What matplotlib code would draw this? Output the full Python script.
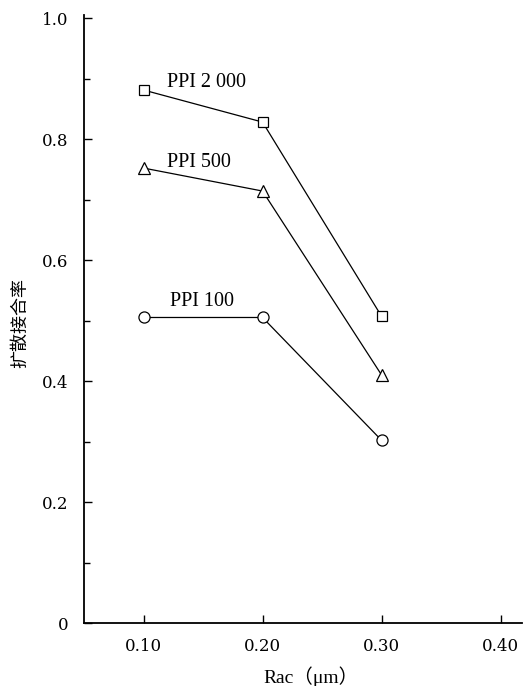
import matplotlib
matplotlib.use('Agg')
import matplotlib.pyplot as plt
from matplotlib.ticker import MultipleLocator

# 数据
rac = [0.10, 0.20, 0.30]
ppi_2000 = [0.881, 0.828, 0.507]
ppi_500 = [0.752, 0.714, 0.410]
ppi_100 = [0.505, 0.505, 0.302]
series_labels = ['PPI 2 000', 'PPI 500', 'PPI 100']
x_ticks = [0.10, 0.20, 0.30, 0.40]
y_ticks = [0, 0.2, 0.4, 0.6, 0.8, 1.0]

fig = plt.figure(figsize=(5.25, 6.86), dpi=100)
ax = fig.add_axes([84/525, 63/686, 438/525, 608/686])

mk = dict(color='black', lw=0.9, markerfacecolor='white',
          markeredgecolor='black', markeredgewidth=0.9)
ax.plot(rac, ppi_2000, marker='s', markersize=7, **mk)
ax.plot(rac, ppi_500, marker='^', markersize=8, **mk)
ax.plot(rac, ppi_100, marker='o', markersize=8, **mk)

# 曲线标注
lab_font = dict(family='Liberation Serif', fontsize=14.5, va='baseline', ha='left')
ax.text(0.12, 0.886, series_labels[0], **lab_font)
ax.text(0.12, 0.754, series_labels[1], **lab_font)
ax.text(0.122, 0.524, series_labels[2], **lab_font)

ax.set_xlim(0.05, 0.418)
ax.set_ylim(0, 1.005)
ax.spines['top'].set_visible(False)
ax.spines['right'].set_visible(False)
for s in ['left', 'bottom']:
    ax.spines[s].set_linewidth(1.3)

ax.set_xticks(x_ticks)
ax.set_xticklabels(['%.2f' % v for v in x_ticks])
ax.set_yticks(y_ticks)
ax.set_yticklabels(['0' if v == 0 else '%.1f' % v for v in y_ticks])
ax.yaxis.set_minor_locator(MultipleLocator(0.1))
ax.tick_params(axis='both', which='major', direction='in', length=6, width=1, pad=11)
ax.tick_params(axis='y', which='minor', direction='in', length=4, width=1)
for lbl in ax.get_xticklabels() + ax.get_yticklabels():
    lbl.set_family('DejaVu Serif')
    lbl.set_fontsize(12)

fig.text(311/525, 1 - 677/686, 'Rac（μm）', family=['Liberation Serif', 'Noto Sans CJK SC'],
         fontsize=14, ha='center', va='center')
fig.text(20/525, 1 - 323/686, '扩散接合率', family=['Noto Sans CJK SC', 'DejaVu Sans'],
         fontsize=13, rotation=90, ha='center', va='center')

plt.savefig('out.png', dpi=100)
plt.close()
